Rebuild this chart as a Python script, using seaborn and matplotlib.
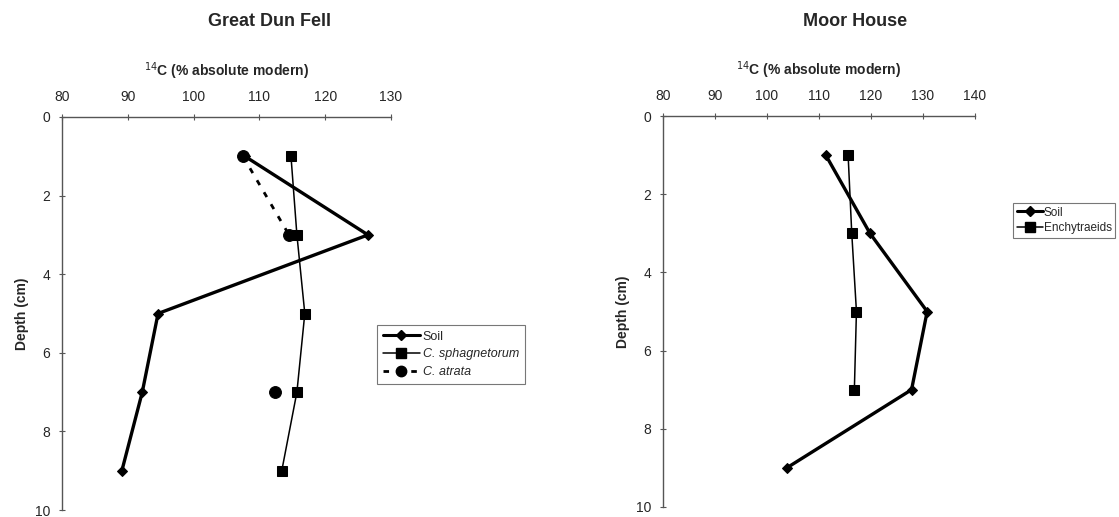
import numpy as np
import pandas as pd
import matplotlib
matplotlib.use("Agg")
import matplotlib.pyplot as plt
from matplotlib.lines import Line2D
import seaborn as sns

# depth (cm) of each sample
depth = [1, 3, 5, 7, 9]
depth_mh = [1, 3, 5, 7]

# Great Dun Fell, 14C (% absolute modern)
gdf_soil = [107.8, 126.5, 94.6, 92.2, 89.1]
gdf_sphag = [114.8, 115.7, 116.9, 115.7, 113.4]
gdf_atrata = [107.5, 114.5, np.nan, 112.4, np.nan]

# Moor House
mh_soil = [111.3, 119.8, 130.8, 127.8, 103.8]
mh_ench = [115.6, 116.3, 117.2, 116.8]

sns.set_style("white")
plt.rcParams["font.family"] = ["Liberation Sans", "DejaVu Sans"]


def segments(values, depths):
    df = pd.DataFrame({"c14": values, "depth": depths})
    df["seg"] = df["c14"].isna().cumsum()
    return df.dropna()


def draw(ax, values, depths, marker, ms, lw, ls="-"):
    df = segments(values, depths)
    sns.lineplot(data=df, x="c14", y="depth", units="seg", estimator=None,
                 sort=False, ax=ax, color="black", lw=lw, ls=ls,
                 marker=marker, markersize=ms, markeredgecolor="black")


def style(ax, xmax):
    ax.set_xlim(80, xmax)
    ax.set_ylim(10, 0)
    ax.set_xticks(range(80, xmax + 1, 10))
    ax.set_yticks(range(0, 11, 2))
    ax.xaxis.tick_top()
    ax.xaxis.set_label_position("top")
    for s in ["right", "bottom"]:
        ax.spines[s].set_visible(False)
    for s in ["top", "left"]:
        ax.spines[s].set_color("#555555")
        ax.spines[s].set_linewidth(1.0)
    ax.tick_params(axis="both", direction="inout", length=5, width=0.8,
                   color="#555555", labelsize=10)
    ax.tick_params(axis="x", top=True, bottom=False, pad=7)
    ax.tick_params(axis="y", left=True, pad=6)
    ax.set_xlabel(r"$^{14}$C (% absolute modern)", fontsize=10,
                  fontweight="bold", labelpad=10)
    ax.set_ylabel("Depth (cm)", fontsize=10, fontweight="bold", labelpad=4)


fig = plt.figure(figsize=(11.19, 5.17), dpi=100)
W, H = 1119, 517
ax1 = fig.add_axes([62 / W, 1 - 510 / H, (391 - 62) / W, (510 - 117) / H])
ax2 = fig.add_axes([663 / W, 1 - 507 / H, (975 - 663) / W, (507 - 116) / H])

draw(ax1, gdf_soil, depth, "D", 5.5, 2.4)
draw(ax1, gdf_sphag, depth, "s", 7.5, 1.1)
draw(ax1, gdf_atrata, depth, "o", 8.5, 2.0, ls=(0, (2, 3)))
style(ax1, 130)

draw(ax2, mh_soil, depth, "D", 5.5, 2.4)
draw(ax2, mh_ench, depth_mh, "s", 7.5, 1.1)
style(ax2, 140)

fig.text(270 / W, 1 - 22 / H, "Great Dun Fell", ha="center", va="center",
         fontsize=13, fontweight="bold")
fig.text(855 / W, 1 - 21 / H, "Moor House", ha="center", va="center",
         fontsize=13, fontweight="bold")

h_soil = Line2D([], [], color="black", lw=2.2, marker="D", markersize=5)
h_sphag = Line2D([], [], color="black", lw=1.1, marker="s", markersize=6.5)
h_atrata = Line2D([], [], color="black", lw=2.0, ls=(0, (2, 3)), marker="o", markersize=7.5)

leg1 = ax1.legend([h_soil, h_sphag, h_atrata], ["Soil", "C. sphagnetorum", "C. atrata"],
                  loc="upper left", bbox_to_anchor=(377 / W, 1 - 325 / H),
                  bbox_transform=fig.transFigure, fontsize=9, frameon=True,
                  fancybox=False, edgecolor="#555555", handlelength=3.0,
                  handletextpad=0.2, borderpad=0.45, labelspacing=0.45,
                  borderaxespad=0)
for t in leg1.get_texts()[1:]:
    t.set_fontstyle("italic")
leg1.get_frame().set_linewidth(0.8)

leg2 = ax2.legend([h_soil, h_sphag], ["Soil", "Enchytraeids"],
                  loc="upper left", bbox_to_anchor=(1013 / W, 1 - 203 / H),
                  bbox_transform=fig.transFigure, fontsize=8.5, frameon=True,
                  fancybox=False, edgecolor="#555555", handlelength=2.2,
                  handletextpad=0.1, borderpad=0.3, labelspacing=0.3,
                  borderaxespad=0)
leg2.get_frame().set_linewidth(0.8)

fig.savefig("out.png", dpi=100)
